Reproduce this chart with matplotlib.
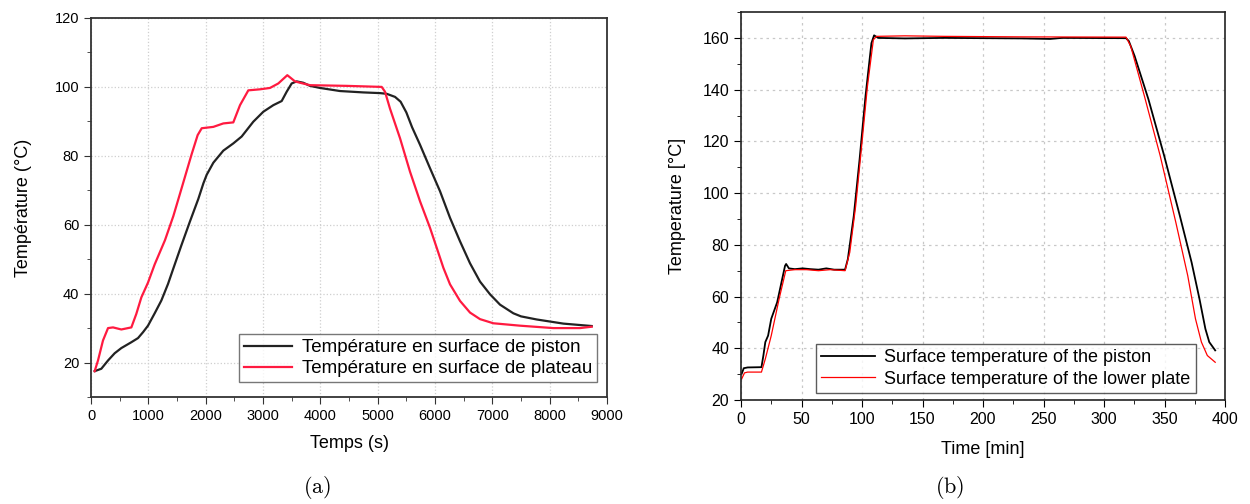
import matplotlib.pyplot as plt
from matplotlib.ticker import MultipleLocator

plt.rcParams['font.family'] = ['Liberation Sans', 'DejaVu Sans']
plt.rcParams['mathtext.fontset'] = 'cm'

# (a) time in s, temperature in degC
piston_a_t = [64, 180, 297, 413, 529, 704, 820, 907, 994, 1111, 1227, 1343, 1436, 1576,
              1727, 1872, 1960, 2018, 2134, 2308, 2482, 2628, 2831, 3006, 3180, 3326,
              3413, 3500, 3587, 3703, 3820, 3994, 4343, 4750, 5041, 5157, 5303, 5400,
              5500, 5600, 5739, 5913, 6088, 6262, 6436, 6611, 6785, 6960, 7134, 7366,
              7500, 7774, 8239, 8733]
piston_a_T = [17.5, 18.2, 20.6, 22.7, 24.2, 25.9, 27.1, 28.8, 30.7, 34.3, 38.0, 42.8, 47.3,
              54.0, 61.0, 67.5, 72.0, 74.5, 78.0, 81.5, 83.6, 85.6, 89.9, 92.8, 94.7, 95.9,
              98.6, 101.0, 101.6, 101.2, 100.3, 99.7, 98.8, 98.4, 98.2, 98.0, 97.1, 95.7,
              92.6, 88.3, 83.2, 76.4, 69.7, 62.0, 55.2, 48.8, 43.5, 39.8, 36.8, 34.3,
              33.4, 32.5, 31.3, 30.6]
plateau_a_t = [64, 122, 209, 297, 384, 529, 704, 790, 878, 994, 1111, 1290, 1436, 1552,
               1756, 1860, 1931, 2134, 2308, 2482, 2599, 2744, 2948, 3122, 3267, 3424,
               3558, 3646, 3820, 4460, 5070, 5128, 5215, 5390, 5564, 5739, 5913, 6030,
               6146, 6262, 6436, 6611, 6785, 7017, 7483, 8064, 8530, 8733]
plateau_a_T = [17.5, 20.6, 26.4, 30.0, 30.2, 29.6, 30.2, 34.1, 38.9, 43.2, 48.5, 55.5, 62.5,
               69.0, 80.5, 86.0, 88.0, 88.4, 89.4, 89.7, 94.7, 99.0, 99.3, 99.7, 101.0,
               103.4, 101.6, 101.2, 100.5, 100.3, 100.0, 98.6, 93.7, 85.1, 75.4, 66.8,
               59.1, 53.3, 47.5, 42.7, 37.9, 34.5, 32.6, 31.4, 30.7, 30.0, 30.0, 30.4]

# (b) time in min, temperature in degC
piston_b_t = [0.6, 2.3, 5.5, 16.9, 18.5, 20.1, 22.4, 25.0, 29.9, 36.4, 37.3, 39.6, 44.5,
              51.0, 57.5, 64.0, 70.5, 77.0, 86.0, 88.3, 93.2, 98.0, 102.9, 107.8, 110.0,
              113.3, 135.4, 167.9, 200.3, 232.8, 255.5, 265.3, 318.2, 320.5, 325.3, 336.7,
              349.7, 362.7, 372.4, 378.9, 383.8, 387.0, 391.9]
piston_b_T = [30.2, 32.3, 32.6, 32.7, 37.2, 42.4, 44.9, 51.4, 57.8, 71.9, 72.6, 70.9, 70.6,
              70.9, 70.6, 70.4, 70.9, 70.4, 70.4, 74.5, 91.2, 113.0, 137.5, 158.0, 161.0,
              160.0, 159.8, 160.0, 159.9, 159.8, 159.6, 160.0, 159.9, 158.8, 153.0, 136.3,
              114.5, 91.2, 73.2, 59.1, 47.5, 42.4, 39.2]
plate_b_t = [0.6, 2.9, 5.5, 16.9, 20.1, 25.0, 31.5, 37.0, 44.5, 54.2, 64.0, 73.7, 86.0,
             89.9, 94.8, 99.7, 104.5, 109.4, 112.0, 135.4, 167.9, 232.8, 318.2, 322.1,
             333.4, 346.4, 359.4, 369.2, 375.6, 380.5, 385.4, 391.9]
plate_b_T = [28.2, 30.5, 30.8, 30.8, 35.9, 44.9, 59.1, 70.0, 70.4, 70.4, 70.0, 70.4, 70.0,
             77.1, 95.1, 118.2, 141.3, 159.3, 160.6, 160.8, 160.6, 160.4, 160.3, 156.8,
             137.5, 114.5, 88.6, 68.1, 51.4, 42.4, 37.2, 34.6]

fig = plt.figure(figsize=(12.5, 5.04), dpi=100)

# ---- panel (a)
ax1 = fig.add_axes([0.0728, 0.2123, 0.4128, 0.752])
ax1.plot(piston_a_t, piston_a_T, color='#222222', lw=1.6,
         label='Température en surface de piston')
ax1.plot(plateau_a_t, plateau_a_T, color='#ff1a40', lw=1.6,
         label='Température en surface de plateau')
ax1.set_xlim(0, 9000)
ax1.set_ylim(10, 120)
ax1.xaxis.set_major_locator(MultipleLocator(1000))
ax1.xaxis.set_minor_locator(MultipleLocator(500))
ax1.yaxis.set_major_locator(MultipleLocator(20))
ax1.yaxis.set_minor_locator(MultipleLocator(10))
ax1.grid(True, which='major', ls=':', color='#cfcfcf', lw=0.9)
ax1.tick_params(which='both', direction='out', labelsize=10.5, color='#333333')
ax1.tick_params(which='major', length=5)
ax1.tick_params(which='minor', length=3)
for s in ax1.spines.values():
    s.set_color('#333333')
    s.set_linewidth(1.3)
ax1.set_xlabel('Temps (s)', fontsize=13, labelpad=9)
ax1.set_ylabel('Température (°C)', fontsize=13, labelpad=16)
leg1 = ax1.legend(loc='lower right', bbox_to_anchor=(0.98, 0.04), fontsize=13.5,
                  frameon=True, fancybox=False, handlelength=2.6, borderpad=0.25,
                  labelspacing=0.2, handletextpad=0.5, borderaxespad=0)
leg1.get_frame().set_edgecolor('#555555')
leg1.get_frame().set_linewidth(1.0)

# ---- panel (b)
ax2 = fig.add_axes([0.5928, 0.2063, 0.3872, 0.7698])
ax2.plot(piston_b_t, piston_b_T, color='black', lw=1.3,
         label='Surface temperature of the piston')
ax2.plot(plate_b_t, plate_b_T, color='#ff0000', lw=0.9,
         label='Surface temperature of the lower plate')
ax2.set_xlim(0, 400)
ax2.set_ylim(20, 170)
ax2.xaxis.set_major_locator(MultipleLocator(50))
ax2.xaxis.set_minor_locator(MultipleLocator(25))
ax2.yaxis.set_major_locator(MultipleLocator(20))
ax2.yaxis.set_minor_locator(MultipleLocator(10))
ax2.grid(True, which='major', ls=(0, (2, 3)), color='#c8c8c8', lw=0.9)
ax2.tick_params(which='both', direction='out', labelsize=11.5)
ax2.tick_params(which='major', length=5)
ax2.tick_params(which='minor', length=3)
for s in ax2.spines.values():
    s.set_color('#222222')
    s.set_linewidth(1.2)
ax2.set_xlabel('Time [min]', fontsize=13, labelpad=10)
ax2.set_ylabel('Temperature [°C]', fontsize=13, labelpad=12)
leg2 = ax2.legend(loc='lower right', bbox_to_anchor=(0.94, 0.018), fontsize=13,
                  frameon=True, fancybox=False, handlelength=3.0, borderpad=0.3,
                  labelspacing=0.25, handletextpad=0.5, borderaxespad=0)
leg2.get_frame().set_edgecolor('#333333')
leg2.get_frame().set_linewidth(1.0)

fig.text(0.2536, 0.033, r'$\mathrm{(a)}$', ha='center', va='center', fontsize=16)
fig.text(0.7600, 0.033, r'$\mathrm{(b)}$', ha='center', va='center', fontsize=16)

plt.savefig('out.png', dpi=100)
